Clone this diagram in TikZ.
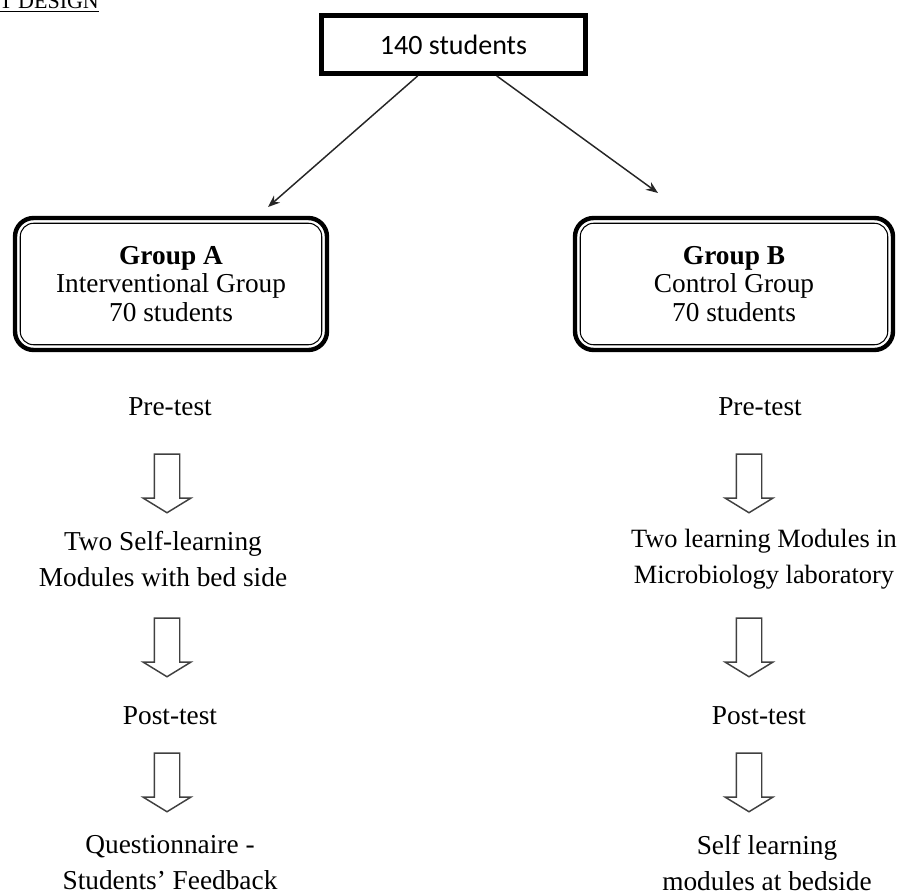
\documentclass[tikz,border=0pt]{standalone}
\usepackage{fontspec}
\setmainfont{Liberation Serif}
\newfontfamily\calibrifont{Carlito}
\usepackage{tikz}
\usetikzlibrary{arrows.meta, shapes.arrows, shadows}

\begin{document}
\begin{tikzpicture}[x=0.75pt, y=-0.75pt,
    every node/.style={font=\fontsize{20.5}{27}\selectfont},
    grpbox/.style={draw, line width=3.3pt, rounded corners=14pt, minimum height=99pt, align=center, font=\fontsize{20.5}{21.4}\selectfont},
    hollow/.style={draw=black!75, line width=1.1pt, single arrow, shape border rotate=270, minimum height=44pt, inner sep=9pt, single arrow head extend=8.25pt, single arrow tip angle=117, single arrow head indent=0pt},
    lbl/.style={align=center},
    link/.style={-{Stealth[length=9pt, width=7pt]}, line width=1.1pt, black!85}]
    \useasboundingbox (0,0) rectangle (902,895);

    % Heading (cut off at the page edge)
    \node[anchor=base west, inner sep=0pt, font=\fontsize{16.5}{20}\selectfont] (heading) at (-1,9) {\underline{T DESIGN}};

    % All students
    \node[draw, line width=3.6pt, minimum width=198pt, minimum height=43.5pt, fill=white,
        drop shadow={shadow xshift=1.5pt, shadow yshift=-1.5pt, fill=black!40},
        font=\calibrifont\fontsize{21}{25}\selectfont] (top) at (453.5,44.5) {140 students};

    % Group A
    \node[grpbox, minimum width=234pt] (grpA) at (171,284) {\textbf{Group A}\\Interventional Group\\70 students};
    \draw[line width=0.8pt, rounded corners=10pt] ([xshift=5.6pt, yshift=-5.6pt]grpA.north west) rectangle ([xshift=-5.6pt, yshift=5.6pt]grpA.south east);

    % Group B
    \node[grpbox, minimum width=238.5pt] (grpB) at (734,284) {\textbf{Group B}\\Control Group\\70 students};
    \draw[line width=0.8pt, rounded corners=10pt] ([xshift=5.6pt, yshift=-5.6pt]grpB.north west) rectangle ([xshift=-5.6pt, yshift=5.6pt]grpB.south east);

    % Split arrows
    \coordinate (tipA) at (268,207);
    \coordinate (tipB) at (658,193);
    \draw[link] (top) -- (tipA);
    \draw[link] (top) -- (tipB);

    % Left column
    \node[lbl] (preA) at (170,407) {Pre-test};
    \node[hollow] (arrA1) at (167,479.5) {};
    \node[lbl] (modA) at (163,559) {Two Self-learning\\Modules with bed side};
    \node[hollow] (arrA2) at (167,643.5) {};
    \node[lbl] (postA) at (170,716) {Post-test};
    \node[hollow] (arrA3) at (167,778.5) {};
    \node[lbl] (fbA) at (170,863) {Questionnaire -\\Students' Feedback};

    % Right column
    \node[lbl] (preB) at (760,407) {Pre-test};
    \node[hollow] (arrB1) at (749,479.5) {};
    \node[lbl, font=\fontsize{19.8}{27}\selectfont] (modB) at (764,559) {Two learning Modules in\\Microbiology laboratory};
    \node[hollow] (arrB2) at (749,643.5) {};
    \node[lbl] (postB) at (759,716) {Post-test};
    \node[hollow] (arrB3) at (749,778.5) {};
    \node[lbl] (fbB) at (767,863) {Self learning\\modules at bedside};

\end{tikzpicture}
\end{document}
